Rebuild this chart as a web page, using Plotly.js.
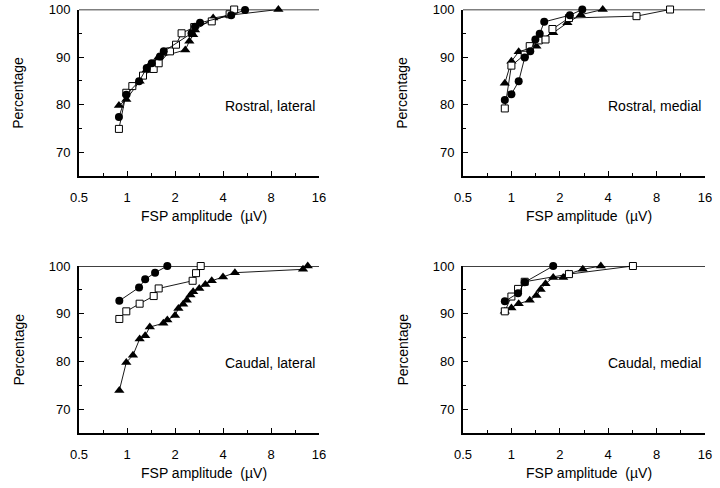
<!DOCTYPE html>
<html><head><meta charset="utf-8">
<script src="https://cdn.plot.ly/plotly-3.0.1.min.js"></script>
<style>body{margin:0;background:#fff}#c{width:720px;height:488px}</style>
</head><body><div id="c"></div>
<script>
// Panel titles
const panelNames = ["Rostral, lateral", "Rostral, medial", "Caudal, lateral", "Caudal, medial"];
const xTicks = [0.5, 1, 2, 4, 8, 16];
const xTickText = ["0.5", "1", "2", "4", "8", "16"];
const yTicks = [70, 80, 90, 100];

// Rostral, lateral
const rl_circle_x = [0.89, 0.99, 1.19, 1.33, 1.43, 1.61, 1.70, 2.54, 2.67, 2.87, 4.5, 5.5];
const rl_circle_y = [77.4, 82.1, 84.9, 87.7, 88.7, 90.1, 91.2, 95.0, 96.4, 97.2, 98.8, 99.9];
const rl_tri_x = [0.89, 0.99, 1.20, 1.32, 1.40, 1.57, 2.32, 2.46, 2.60, 2.67, 3.47, 4.4, 8.9];
const rl_tri_y = [79.8, 81.1, 84.9, 87.2, 88.5, 89.9, 91.5, 93.3, 94.7, 95.7, 98.2, 98.8, 100];
const rl_sq_x = [0.89, 0.99, 1.08, 1.26, 1.47, 1.58, 1.86, 2.03, 2.2, 2.64, 3.4, 4.4, 4.7];
const rl_sq_y = [74.9, 82.5, 83.9, 86.1, 87.5, 88.7, 91.2, 92.6, 95.0, 96.3, 97.5, 99.0, 100];

// Rostral, medial
const rm_circle_x = [0.91, 1.0, 1.11, 1.21, 1.31, 1.41, 1.50, 1.60, 2.31, 2.76];
const rm_circle_y = [81.0, 82.2, 84.9, 89.9, 91.2, 93.7, 94.9, 97.4, 98.8, 100];
const rm_tri_x = [0.91, 1.0, 1.11, 1.43, 1.50, 1.82, 2.23, 2.7, 3.7];
const rm_tri_y = [84.5, 89.1, 91.1, 92.3, 93.7, 95.1, 97.2, 98.9, 100];
const rm_sq_x = [0.91, 1.0, 1.21, 1.30, 1.48, 1.63, 1.80, 2.28, 6.0, 9.7];
const rm_sq_y = [79.2, 88.2, 90.5, 92.3, 93.5, 93.7, 95.9, 98.2, 98.6, 100];

// Caudal, lateral
const cl_circle_x = [0.895, 1.19, 1.30, 1.50, 1.79];
const cl_circle_y = [92.7, 95.5, 97.2, 98.6, 100];
const cl_sq_x = [0.895, 0.99, 1.2, 1.47, 1.58, 2.58, 2.71, 2.9];
const cl_sq_y = [88.9, 90.5, 92.1, 93.7, 95.3, 96.9, 98.5, 100];
const cl_tri_x = [0.895, 0.99, 1.09, 1.2, 1.3, 1.39, 1.69, 1.79, 2.0, 2.1, 2.25, 2.37, 2.5, 2.6, 2.84, 3.1, 3.4, 4.0, 4.75, 12.7, 13.6];
const cl_tri_y = [73.9, 79.8, 81.3, 84.7, 85.4, 87.2, 88.0, 88.7, 89.6, 91.1, 92.0, 92.8, 93.9, 94.6, 95.3, 96.1, 96.9, 97.7, 98.6, 99.3, 100];

// Caudal, medial
const cm_circle_x = [0.91, 1.1, 1.21, 1.82];
const cm_circle_y = [92.6, 94.3, 96.6, 100];
const cm_sq_x = [0.91, 1.0, 1.1, 1.21, 2.28, 5.7];
const cm_sq_y = [90.5, 93.6, 95.2, 96.7, 98.3, 100];
const cm_tri_x = [0.91, 1.0, 1.11, 1.30, 1.43, 1.52, 1.63, 1.82, 2.1, 2.25, 2.78, 3.6];
const cm_tri_y = [90.5, 91.2, 92.1, 92.8, 93.8, 95.1, 96.3, 97.6, 97.6, 98.3, 99.3, 100];

const styles = {
  circle: {symbol: 'circle', size: 8, color: '#000', line: {width: 0}},
  tri: {symbol: 'triangle-up', size: 9, color: '#000', line: {width: 0}}
};
function tr(x, y, kind, ax) {
  return {x: x, y: y, type: 'scatter', mode: 'lines+markers', xaxis: 'x' + ax, yaxis: 'y' + ax,
    line: {color: '#000', width: 0.9}, marker: styles[kind], cliponaxis: false, showlegend: false};
}
function trSq(x, y, ax) {
  // white-filled open square
  return {x: x, y: y, type: 'scatter', mode: 'lines+markers', xaxis: 'x' + ax, yaxis: 'y' + ax,
    line: {color: '#000', width: 0.9}, marker: {symbol: 'square', size: 7, color: '#fff', line: {color: '#000', width: 1}}, cliponaxis: false, showlegend: false};
}
const data = [
  tr(rl_tri_x, rl_tri_y, 'tri', ''), trSq(rl_sq_x, rl_sq_y, ''), tr(rl_circle_x, rl_circle_y, 'circle', ''),
  tr(rm_tri_x, rm_tri_y, 'tri', '2'), trSq(rm_sq_x, rm_sq_y, '2'), tr(rm_circle_x, rm_circle_y, 'circle', '2'),
  tr(cl_tri_x, cl_tri_y, 'tri', '3'), trSq(cl_sq_x, cl_sq_y, '3'), tr(cl_circle_x, cl_circle_y, 'circle', '3'),
  tr(cm_tri_x, cm_tri_y, 'tri', '4'), trSq(cm_sq_x, cm_sq_y, '4'), tr(cm_circle_x, cm_circle_y, 'circle', '4')
];
const font = {family: 'Liberation Sans, Arial, sans-serif', size: 13, color: '#000'};
function xax(dom, anchor) {
  return {type: 'log', domain: dom, anchor: anchor, range: [Math.log10(0.5), Math.log10(16)],
    tickvals: xTicks, ticktext: xTickText, ticks: 'inside', ticklen: 5, tickwidth: 1, tickcolor: '#000',
    showline: true, linecolor: '#000', linewidth: 2, showgrid: false, zeroline: false,
    ticklabelstandoff: 8, tickfont: font,
    minor: {tickvals: [0.7071, 1.4142, 2.8284, 5.6569, 11.3137], ticks: 'inside', ticklen: 3, tickcolor: '#000', showgrid: false}};
}
function yax(dom, anchor) {
  return {domain: dom, anchor: anchor, range: [65, 100], tickvals: yTicks, ticks: 'inside', ticklen: 5, tickwidth: 1,
    tickcolor: '#000', showline: true, linecolor: '#000', linewidth: 2, showgrid: false, zeroline: false,
    ticklabelstandoff: 4, tickfont: font,
    minor: {tickvals: [75, 85, 95], ticks: 'inside', ticklen: 3, tickcolor: '#000', showgrid: false}};
}
const xL = [79/720, 319/720], xR = [463/720, 705/720];
const yT = [1 - 176/488, 1 - 9.5/488], yB = [1 - 433/488, 1 - 266/488];
const titleFont = {family: 'Liberation Sans, Arial, sans-serif', size: 14, color: '#000'};
const annotations = [];
const panels = [
  {ax: '', xd: xL, yd: yT}, {ax: '2', xd: xR, yd: yT}, {ax: '3', xd: xL, yd: yB}, {ax: '4', xd: xR, yd: yB}
];
const shapes = [];
panels.forEach((p, i) => {
  const xa = 'x' + p.ax, ya = 'y' + p.ax;
  annotations.push({text: panelNames[i], xref: xa + ' domain', yref: ya + ' domain', x: 0.99, y: 0.42,
    xanchor: 'right', yanchor: 'middle', showarrow: false, font: titleFont});
  annotations.push({text: 'Percentage', xref: 'paper', yref: 'paper', x: (p.xd[0]*720 - 61)/720,
    y: (p.yd[0] + p.yd[1]) / 2, textangle: -90, xanchor: 'center', yanchor: 'middle', showarrow: false, font: titleFont});
  annotations.push({text: 'FSP amplitude  (\u00b5V)', xref: 'paper', yref: 'paper', x: (p.xd[0] + p.xd[1]) / 2 + 0.007,
    y: p.yd[0] - 40/488, xanchor: 'center', yanchor: 'middle', showarrow: false, font: titleFont});
  shapes.push({type: 'line', xref: xa + ' domain', yref: ya, x0: 0, x1: 1, y0: 100, y1: 100,
    line: {color: '#000', width: 1.5}, layer: 'below'});
});
const layout = {
  width: 720, height: 488, margin: {l: 0, r: 0, t: 0, b: 0}, paper_bgcolor: '#fff', plot_bgcolor: '#fff',
  showlegend: false, font: font,
  xaxis: xax(xL, 'y'), yaxis: yax(yT, 'x'),
  xaxis2: xax(xR, 'y2'), yaxis2: yax(yT, 'x2'),
  xaxis3: xax(xL, 'y3'), yaxis3: yax(yB, 'x3'),
  xaxis4: xax(xR, 'y4'), yaxis4: yax(yB, 'x4'),
  annotations: annotations, shapes: shapes
};
Plotly.newPlot('c', data, layout, {staticPlot: true});
</script></body></html>
